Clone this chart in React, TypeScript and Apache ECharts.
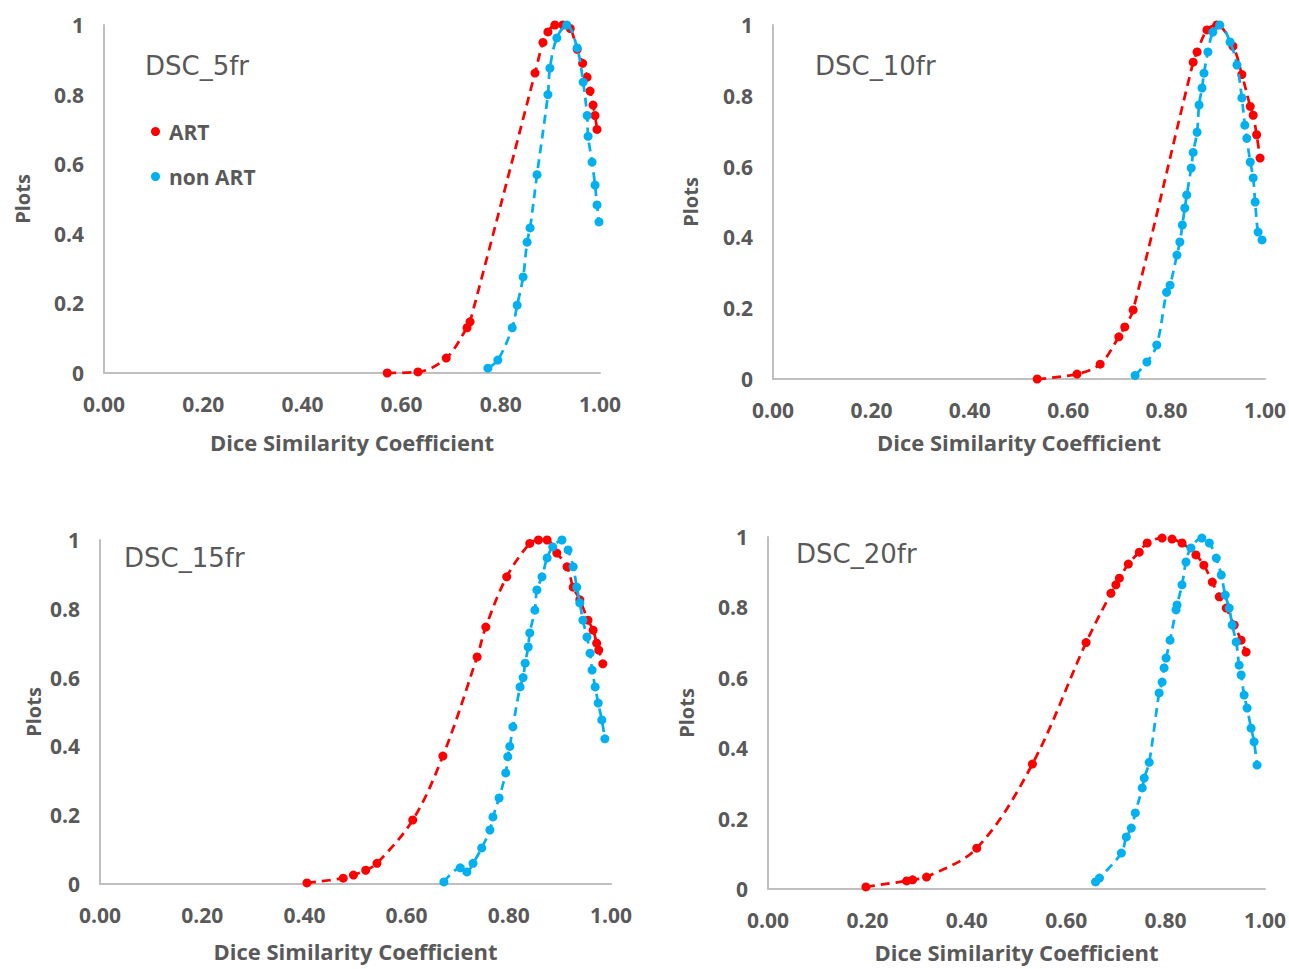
import React, { useEffect, useRef } from "react";
import * as echarts from "echarts";

const panelTitles = ["DSC_5fr", "DSC_10fr", "DSC_15fr", "DSC_20fr"];
const seriesNames = ["ART", "non ART"];
const xAxisName = "Dice Similarity Coefficient";
const yAxisName = "Plots";

const art5 = [
  [0.571, 0], [0.633, 0.003], [0.69, 0.043], [0.732, 0.13], [0.738, 0.147],
  [0.869, 0.862], [0.885, 0.95], [0.895, 0.98], [0.909, 1.0], [0.925, 1.0],
  [0.94, 0.99], [0.954, 0.93], [0.965, 0.89], [0.974, 0.85], [0.98, 0.81],
  [0.986, 0.77], [0.99, 0.74], [0.994, 0.7],
];
const nonArt5 = [
  [0.774, 0.014], [0.794, 0.037], [0.823, 0.13], [0.833, 0.195], [0.845, 0.276],
  [0.853, 0.376], [0.859, 0.417], [0.873, 0.57], [0.895, 0.8], [0.899, 0.876],
  [0.913, 0.963], [0.933, 1.0], [0.954, 0.934], [0.966, 0.836], [0.974, 0.74],
  [0.976, 0.68], [0.984, 0.606], [0.99, 0.54], [0.994, 0.483], [0.998, 0.434],
];
const art10 = [
  [0.537, 0], [0.618, 0.014], [0.665, 0.042], [0.703, 0.119], [0.715, 0.147],
  [0.732, 0.195], [0.854, 0.895], [0.862, 0.924], [0.882, 0.986], [0.902, 1.0],
  [0.935, 0.94], [0.953, 0.86], [0.97, 0.77], [0.976, 0.745], [0.983, 0.69],
  [0.99, 0.624],
];
const nonArt10 = [
  [0.736, 0.01], [0.76, 0.048], [0.78, 0.096], [0.8, 0.245], [0.807, 0.265],
  [0.821, 0.35], [0.827, 0.387], [0.832, 0.435], [0.837, 0.483], [0.841, 0.52],
  [0.85, 0.596], [0.854, 0.64], [0.862, 0.697], [0.866, 0.774], [0.872, 0.822],
  [0.876, 0.864], [0.884, 0.924], [0.894, 0.98], [0.908, 1.0], [0.929, 0.952],
  [0.943, 0.887], [0.953, 0.794], [0.959, 0.717], [0.963, 0.68], [0.97, 0.613],
  [0.976, 0.568], [0.98, 0.5], [0.986, 0.415], [0.994, 0.393],
];
const art15 = [
  [0.405, 0.003], [0.476, 0.017], [0.496, 0.026], [0.52, 0.04], [0.542, 0.06],
  [0.612, 0.186], [0.671, 0.372], [0.738, 0.66], [0.755, 0.747], [0.796, 0.893],
  [0.841, 0.99], [0.858, 1.0], [0.875, 1.0], [0.894, 0.962], [0.914, 0.922],
  [0.926, 0.863], [0.939, 0.826], [0.955, 0.767], [0.965, 0.738], [0.972, 0.7],
  [0.976, 0.68], [0.984, 0.64],
];
const nonArt15 = [
  [0.673, 0.006], [0.705, 0.047], [0.718, 0.035], [0.73, 0.06], [0.747, 0.105],
  [0.763, 0.157], [0.769, 0.195], [0.781, 0.25], [0.794, 0.323], [0.798, 0.37],
  [0.802, 0.4], [0.808, 0.457], [0.822, 0.573], [0.828, 0.6], [0.832, 0.642],
  [0.838, 0.689], [0.841, 0.73], [0.851, 0.796], [0.855, 0.855], [0.865, 0.893],
  [0.875, 0.948], [0.886, 0.98], [0.904, 1.0], [0.916, 0.971], [0.926, 0.922],
  [0.933, 0.863], [0.939, 0.817], [0.945, 0.767], [0.953, 0.718], [0.959, 0.671],
  [0.963, 0.622], [0.969, 0.573], [0.975, 0.526], [0.982, 0.477], [0.988, 0.422],
];
const art20 = [
  [0.197, 0.006], [0.279, 0.023], [0.291, 0.026], [0.319, 0.034], [0.42, 0.116],
  [0.532, 0.355], [0.64, 0.7], [0.69, 0.84], [0.7, 0.864], [0.707, 0.883],
  [0.725, 0.923], [0.747, 0.957], [0.763, 0.983], [0.793, 0.997], [0.813, 0.994],
  [0.833, 0.983], [0.861, 0.949], [0.877, 0.92], [0.894, 0.872], [0.908, 0.83],
  [0.922, 0.798], [0.938, 0.75], [0.952, 0.707], [0.962, 0.673],
];
const nonArt20 = [
  [0.659, 0.02], [0.667, 0.031], [0.711, 0.102], [0.721, 0.148], [0.731, 0.173],
  [0.739, 0.216], [0.753, 0.287], [0.757, 0.315], [0.767, 0.36], [0.787, 0.557],
  [0.793, 0.588], [0.797, 0.628], [0.801, 0.656], [0.809, 0.707], [0.821, 0.793],
  [0.823, 0.807], [0.833, 0.864], [0.841, 0.929], [0.851, 0.969], [0.873, 0.997],
  [0.888, 0.983], [0.902, 0.94], [0.912, 0.892], [0.92, 0.835], [0.928, 0.798],
  [0.934, 0.75], [0.942, 0.702], [0.948, 0.636], [0.952, 0.608], [0.958, 0.551],
  [0.964, 0.514], [0.972, 0.457], [0.978, 0.418], [0.984, 0.352],
];

const artData = [art5, art10, art15, art20];
const nonArtData = [nonArt5, nonArt10, nonArt15, nonArt20];

const RED = "#FF0000";
const BLUE = "#00B0F0";
const TEXT = "#595959";
const AXIS = "#BFBFBF";
const FONT = "'Open Sans', 'Noto Sans', sans-serif";
const TITLE_FONT = "'DejaVu Sans', 'Open Sans', sans-serif";

const grids = [
  { left: 104, top: 25, width: 496, height: 348 },
  { left: 773, top: 25, width: 492, height: 354 },
  { left: 100, top: 540, width: 511, height: 344 },
  { left: 768, top: 537, width: 498, height: 352 },
];
const xNameGaps = [58, 52, 56, 52];
const yNameGaps = [72, 73, 57, 72];
const titlePos = [
  { left: 145, top: 53 },
  { left: 815, top: 53 },
  { left: 124, top: 545 },
  { left: 796, top: 541 },
];

export default function App() {
  const ref = useRef<HTMLDivElement>(null);
  useEffect(() => {
    const chart = echarts.init(ref.current!, null, { renderer: "svg" });
    const makeSeries = (name: string, data: number[][], i: number, color: string) => ({
      name,
      type: "line",
      xAxisIndex: i,
      yAxisIndex: i,
      data,
      smooth: 0.35,
      symbol: "circle",
      symbolSize: 9,
      itemStyle: { color },
      lineStyle: { color, width: 2.75, type: [9, 6] },
      z: color === BLUE ? 3 : 2,
    });
    const series: any[] = [];
    for (let i = 0; i < 4; i++) {
      series.push(makeSeries(seriesNames[0], artData[i], i, RED));
      series.push(makeSeries(seriesNames[1], nonArtData[i], i, BLUE));
    }
    const option: any = {
      animation: false,
      backgroundColor: "#fff",
      textStyle: { fontFamily: FONT },
      title: panelTitles.map((t, i) => ({
        text: t,
        left: titlePos[i].left,
        top: titlePos[i].top,
        padding: 0,
        textStyle: { fontFamily: TITLE_FONT, fontSize: 26, fontWeight: "normal", color: TEXT },
      })),
      legend: {
        data: seriesNames,
        orient: "vertical",
        left: 151,
        top: 121,
        padding: 0,
        itemWidth: 9,
        itemHeight: 9,
        itemGap: 24,
        icon: "circle",
        textStyle: {
          fontFamily: FONT,
          fontSize: 21,
          color: TEXT,
          fontWeight: "bold",
          padding: [0, 0, 0, 4],
        },
      },
      grid: grids.map((g) => ({ ...g, containLabel: false })),
      xAxis: grids.map((_, i) => ({
        type: "value",
        gridIndex: i,
        min: 0,
        max: 1,
        interval: 0.2,
        name: xAxisName,
        nameLocation: "middle",
        nameGap: xNameGaps[i],
        nameTextStyle: { fontFamily: FONT, fontSize: 22, fontWeight: "bold", color: TEXT },
        axisLine: { show: true, lineStyle: { color: AXIS, width: 2 } },
        axisTick: { show: false },
        splitLine: { show: false },
        axisLabel: {
          formatter: (v: number) => v.toFixed(2),
          fontFamily: FONT,
          fontSize: 21,
          fontWeight: "bold",
          color: TEXT,
          margin: 20,
        },
      })),
      yAxis: grids.map((_, i) => ({
        type: "value",
        gridIndex: i,
        min: 0,
        max: 1,
        interval: 0.2,
        name: yAxisName,
        nameLocation: "middle",
        nameGap: yNameGaps[i],
        nameTextStyle: { fontFamily: FONT, fontSize: 20, fontWeight: "bold", color: TEXT },
        axisLine: { show: true, lineStyle: { color: AXIS, width: 2 } },
        axisTick: { show: false },
        splitLine: { show: false },
        axisLabel: {
          fontFamily: FONT,
          fontSize: 21,
          fontWeight: "bold",
          color: TEXT,
          margin: 20,
        },
      })),
      series,
    };
    chart.setOption(option);
    return () => chart.dispose();
  }, []);
  return (
    <div
      ref={ref}
      style={{ position: "absolute", left: 0, top: 0, width: 1289, height: 969, background: "#fff" }}
    />
  );
}
